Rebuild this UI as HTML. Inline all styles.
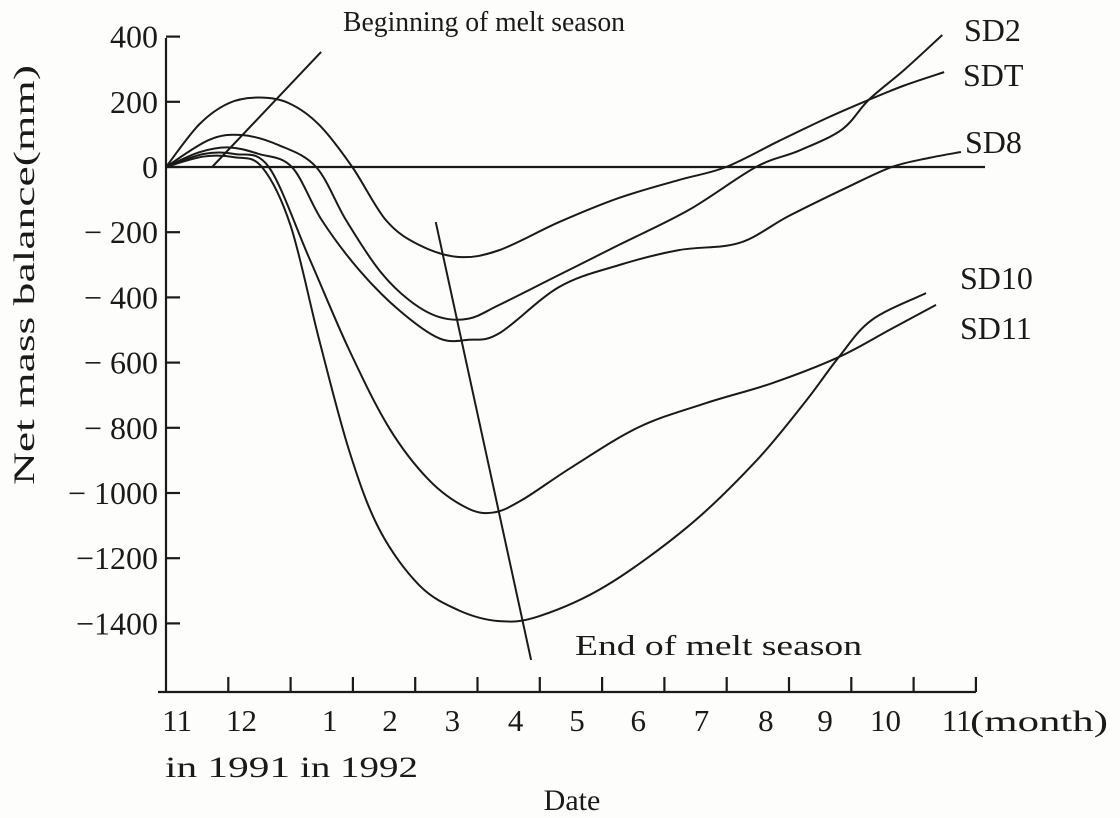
<!DOCTYPE html>
<html><head><meta charset="utf-8"><style>
body{margin:0;background:#fdfdfb;}
svg{display:block;font-family:"Liberation Serif",serif;fill:#1a1a1a;}
</style></head><body>
<svg id="chart" width="1120" height="818" viewBox="0 0 1120 818" xmlns="http://www.w3.org/2000/svg" style="position:absolute;left:0;top:0">
<g id="axes" stroke="#1a1a1a" stroke-width="2.2" fill="none"></g>
<g id="series" stroke="#1a1a1a" stroke-width="2" fill="none"></g>
<g id="labels"></g>
<text x="343" y="31" font-size="29" textLength="282" lengthAdjust="spacingAndGlyphs">Beginning of melt season</text>
<text x="575" y="655" font-size="29" textLength="287" lengthAdjust="spacingAndGlyphs">End of melt season</text>
<text x="964" y="41" font-size="32">SD2</text>
<text x="963" y="86" font-size="32">SDT</text>
<text x="965" y="153" font-size="32">SD8</text>
<text x="960" y="289" font-size="32">SD10</text>
<text x="960" y="339" font-size="32">SD11</text>
<text x="970" y="731" font-size="30" textLength="138" lengthAdjust="spacingAndGlyphs">(month)</text>
<text x="165" y="777" font-size="30" textLength="125" lengthAdjust="spacingAndGlyphs">in 1991</text>
<text x="300" y="777" font-size="30" textLength="118" lengthAdjust="spacingAndGlyphs">in 1992</text>
<text x="572" y="810" font-size="30" text-anchor="middle">Date</text>
<text transform="translate(34,485) rotate(-90)" font-size="30" textLength="420" lengthAdjust="spacingAndGlyphs">Net mass balance(mm)</text>
</svg>
<script>
const yTicks = [400,200,0,-200,-400,-600,-800,-1000,-1200,-1400];
const yTickLabels = ["400","200","0","\u2212 200","\u2212 400","\u2212 600","\u2212 800","\u2212 1000","\u22121200","\u22121400"];
const monthLabels = ["11","12","1","2","3","4","5","6","7","8","9","10","11"];
const seriesNames = ["SD2","SDT","SD8","SD10","SD11"];
const sdtT = [0,.53,1.01,1.49,1.97,2.46,2.99,3.53,4.06,4.70,5.35,6.31,7.27,8.23,8.99,9.84,10.64,11.28,11.85,12.49];
const sdtV = [0,130,196,213,196,129,0,-163,-239,-276,-255,-169,-95,-40,0,80,153,206,250,291];
const sd2T = [0,.69,1.22,1.81,2.41,2.89,3.42,3.90,4.38,4.86,5.35,6.31,7.27,8.39,9.47,10.16,10.85,11.28,11.85,12.46];
const sd2V = [0,83,98,67,0,-163,-316,-408,-460,-465,-423,-331,-239,-132,0,50,115,206,298,405];
const sd8T = [0,.53,1.01,1.49,2.02,2.50,3.10,3.74,4.38,4.86,5.35,6.31,7.27,8.23,9.20,10.0,10.96,11.65,12.25,12.76];
const sd8V = [0,45,60,40,0,-163,-316,-439,-525,-530,-510,-368,-301,-255,-233,-150,-60,0,28,46];
const sd10T = [0,.6,1.1,1.54,2.0,2.46,2.94,3.42,4.06,4.70,5.35,5.99,7.06,8.39,9.47,10.27,10.80,11.33,12.20];
const sd10V = [0,32,30,0,-180,-531,-870,-1110,-1282,-1360,-1393,-1378,-1285,-1101,-902,-718,-583,-469,-387];
const sd11T = [0,.6,1.1,1.65,2.3,2.94,3.58,4.22,4.82,5.25,5.71,6.52,7.59,8.67,9.73,10.80,11.61,12.36];
const sd11V = [0,40,40,0,-280,-561,-800,-960,-1045,-1060,-1022,-920,-798,-724,-663,-583,-500,-423];
const beginLine = [[2.49,353],[0.74,0]];
const endLine = [[4.33,-169],[5.86,-1512]];

const X0=166, XS=62.3, Y0=167, YS=0.326;
const labelShift=[-20,-18,8,6,6,7,6,5,6,8,5,3,12];
const xs = t => X0 + t*XS;
const ys = v => Y0 - v*YS;
const NS="http://www.w3.org/2000/svg";
function mk(tag, attrs, parent){const e=document.createElementNS(NS,tag);for(const k in attrs)e.setAttribute(k,attrs[k]);parent.appendChild(e);return e;}
const axes=document.getElementById('axes'), ser=document.getElementById('series'), lab=document.getElementById('labels');

let e=mk('line',{x1:X0,y1:38,x2:X0,y2:692},axes);


e=mk('line',{x1:158,y1:692,x2:976,y2:692},axes);


e=mk('line',{x1:X0,y1:ys(0),x2:985,y2:ys(0)},axes);



yTicks.forEach((v,i)=>{
  const t=mk('line',{x1:X0,y1:ys(v),x2:X0+14,y2:ys(v)},axes);
  
  
  const tx=mk('text',{x:158,y:ys(v)+11,'text-anchor':'end','font-size':32},lab);
  tx.textContent=yTickLabels[i];
  
  
});
monthLabels.forEach((m,i)=>{
  const t=mk('line',{x1:xs(i+1),y1:692,x2:xs(i+1),y2:677},axes);
  
  
  const tx=mk('text',{x:xs(i+0.5)+labelShift[i],y:731,'text-anchor':'middle','font-size':31},lab);
  tx.textContent=m;
  
  
});

function path(T,V){
  const p=T.map((t,i)=>[xs(t),ys(V[i])]);
  let d=`M${p[0][0]},${p[0][1]}`;
  for(let i=0;i<p.length-1;i++){
    const a=p[Math.max(0,i-1)],b=p[i],c=p[i+1],dd=p[Math.min(p.length-1,i+2)];
    const c1=[b[0]+(c[0]-a[0])/6,b[1]+(c[1]-a[1])/6],c2=[c[0]-(dd[0]-b[0])/6,c[1]-(dd[1]-b[1])/6];
    d+=` C${c1[0]},${c1[1]} ${c2[0]},${c2[1]} ${c[0]},${c[1]}`;
  }
  return d;
}
const all=[[sd2T,sd2V],[sdtT,sdtV],[sd8T,sd8V],[sd10T,sd10V],[sd11T,sd11V]];
all.forEach((s,i)=>{
  const p=mk('path',{d:path(s[0],s[1])},ser);
  
  
});
[beginLine,endLine].forEach((L,i)=>{
  const l=mk('line',{x1:xs(L[0][0]),y1:ys(L[0][1]),x2:xs(L[1][0]),y2:ys(L[1][1])},ser);
  
  
});
</script>
</body></html>
